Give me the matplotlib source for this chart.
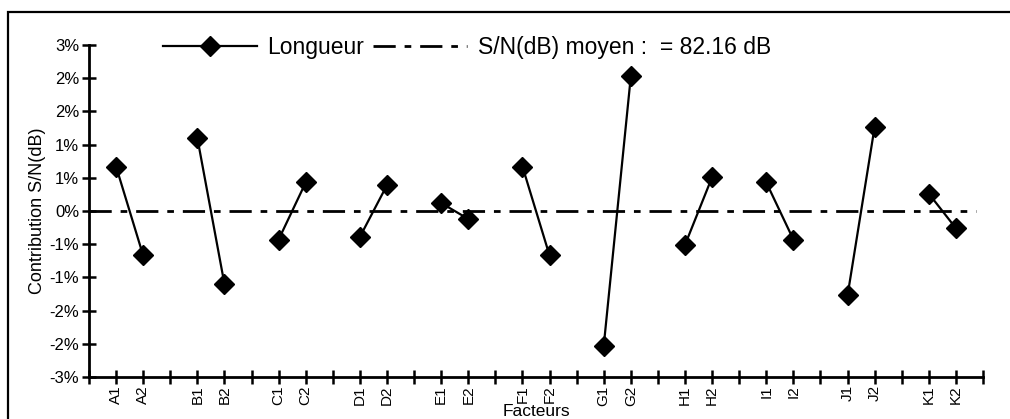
import matplotlib.pyplot as plt
import matplotlib.patches as patches

plt.rcParams['font.family'] = ['Liberation Sans', 'DejaVu Sans']

# niveaux des facteurs (deux niveaux par facteur)
facteurs = ['A', 'B', 'C', 'D', 'E', 'F', 'G', 'H', 'I', 'J', 'K']
niveau_1 = [0.67, 1.10, -0.43, -0.39, 0.12, 0.67, -2.03, -0.51, 0.43, -1.27, 0.26]
niveau_2 = [-0.67, -1.10, 0.43, 0.39, -0.12, -0.67, 2.03, 0.51, -0.43, 1.27, -0.26]
sn_moyen = 82.16

y_ticks = [-2.5, -2.0, -1.5, -1.0, -0.5, 0.0, 0.5, 1.0, 1.5, 2.0, 2.5]
y_labels = ['-3%', '-2%', '-2%', '-1%', '-1%', '0%', '1%', '1%', '2%', '2%', '3%']

fig = plt.figure(figsize=(10.1, 4.19), dpi=100)
ax = fig.add_axes([0.0881, 0.1002, 0.8852, 0.7924])

x_pos = []
x_lab = []
for i, f in enumerate(facteurs):
    x1 = 3 * i + 1
    x2 = 3 * i + 2
    x_pos += [x1, x2]
    x_lab += [f + '1', f + '2']
    ligne, = ax.plot([x1, x2], [niveau_1[i], niveau_2[i]], color='black', lw=1.6,
                     marker='D', markersize=10, markerfacecolor='black', markeredgecolor='black',
                     clip_on=False, zorder=3)

moyen = ax.axhline(0, xmin=0, xmax=0.992, color='black', lw=2.0,
                   linestyle=(0, (8, 3.2, 2.4, 3.2)), zorder=2)

ax.set_xlim(0, 33)
ax.set_ylim(-2.5, 2.5)

ax.set_xticks(range(0, 34))
labels = [''] * 34
for p, l in zip(x_pos, x_lab):
    labels[p] = l
ax.set_xticklabels(labels, rotation=90, fontsize=11)
ax.set_yticks(y_ticks)
ax.set_yticklabels(y_labels, fontsize=12)

for s in ['top', 'right']:
    ax.spines[s].set_visible(False)
for s in ['left', 'bottom']:
    ax.spines[s].set_linewidth(2)
ax.tick_params(direction='inout', length=10, width=1.8, pad=2)
ax.tick_params(axis='x', pad=1)

ax.set_ylabel('Contribution S/N(dB)', fontsize=13, va='center')
ax.yaxis.set_label_coords(-0.058, 0.5)
ax.set_xlabel('Facteurs', fontsize=12.5, va='center')
ax.xaxis.set_label_coords(0.5, -0.103)

fig.legend([ligne, moyen], ['Longueur', f'S/N(dB) moyen :  = {sn_moyen} dB'],
           loc='center left', bbox_to_anchor=(0.1614, 0.886), ncol=2, frameon=False,
           fontsize=16.5, handlelength=4.1, handletextpad=0.45, columnspacing=0.4,
           borderpad=0, borderaxespad=0)

cadre = patches.Rectangle((0.008, -0.2), 1.2, 1.171, transform=fig.transFigure,
                          fill=False, edgecolor='black', lw=1.6, clip_on=False)
fig.patches.append(cadre)

fig.savefig('out.png', dpi=100)
